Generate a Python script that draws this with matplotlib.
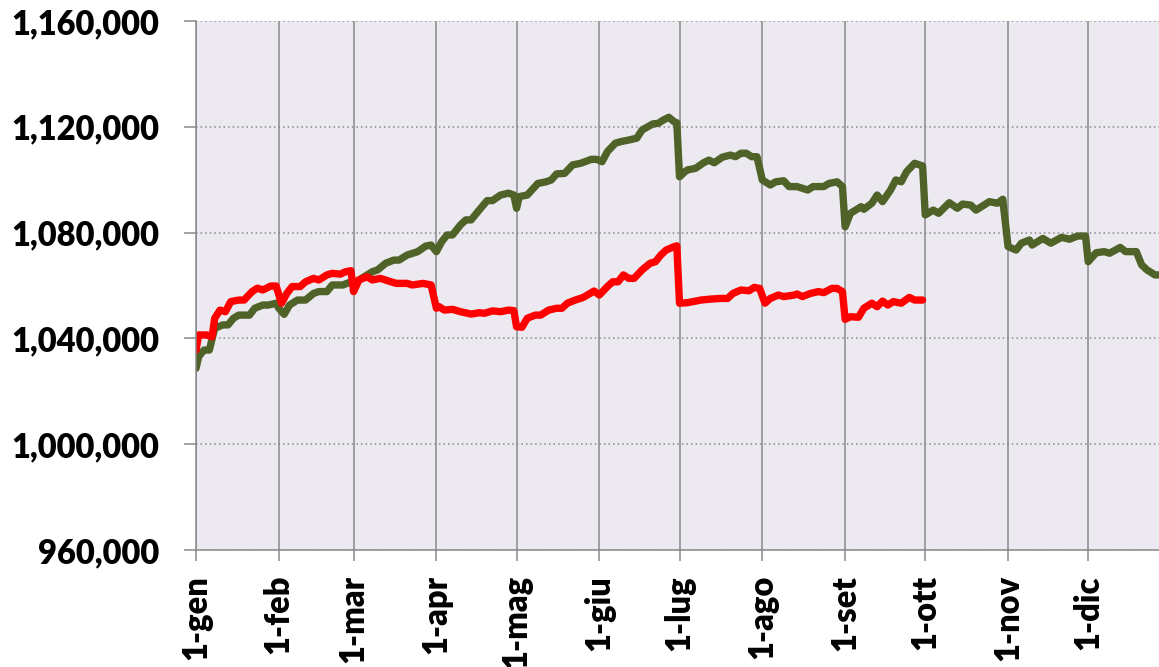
import numpy as np
import matplotlib.pyplot as plt
from matplotlib.ticker import FuncFormatter, FixedLocator

# day of year (0 = 1 Jan) and value in thousands
green_days = [0, 1, 3, 5, 7, 10, 12, 14, 16, 20, 22, 25, 27, 30, 31, 33, 35, 38, 41, 44,
              46, 49, 51, 55, 58, 59, 63, 66, 68, 71, 74, 76, 79, 83, 86, 88, 90, 92, 94, 96,
              99, 101, 103, 106, 109, 111, 114, 117, 119, 120, 121, 124, 128, 131, 133, 135,
              138, 141, 144, 148, 150, 152, 154, 157, 159, 162, 165, 167, 171, 173, 175, 177,
              179, 180, 181, 183, 184, 187, 190, 192, 194, 197, 200, 202, 204, 206, 208, 210,
              212, 215, 217, 220, 222, 225, 229, 231, 235, 237, 240, 242, 243, 245, 249, 250,
              253, 255, 257, 260, 262, 264, 266, 269, 272, 273, 276, 278, 282, 285, 287, 290,
              292, 295, 297, 300, 302, 304, 307, 309, 312, 313, 317, 320, 324, 327, 330, 333,
              334, 337, 340, 342, 346, 348, 352, 354, 356, 359, 361]
green_vals = [1028.7, 1033.1, 1035.6, 1035.6, 1043.8, 1045.1, 1045.1, 1047.6, 1048.8, 1048.8,
              1051.4, 1052.6, 1052.6, 1053.3, 1051.4, 1049.1, 1052.6, 1054.5, 1054.5, 1057.0,
              1057.7, 1057.7, 1060.2, 1060.2, 1061.4, 1060.8, 1063.3, 1065.2, 1065.9, 1068.4,
              1069.6, 1069.6, 1071.5, 1072.8, 1074.9, 1075.3, 1072.8, 1076.6, 1079.1, 1079.1,
              1082.9, 1084.8, 1084.8, 1088.5, 1092.1, 1092.1, 1094.2, 1094.9, 1094.2, 1089.2,
              1093.6, 1094.2, 1098.6, 1099.2, 1099.9, 1102.2, 1102.4, 1105.6, 1106.2, 1107.7,
              1107.7, 1106.8, 1110.6, 1113.8, 1114.4, 1115.0, 1115.7, 1118.8, 1121.1, 1121.3,
              1122.6, 1123.6, 1121.9, 1121.5, 1101.1, 1103.0, 1103.7, 1104.3, 1106.4, 1107.4,
              1106.4, 1108.5, 1109.3, 1108.7, 1110.0, 1110.0, 1108.7, 1108.7, 1099.9, 1098.0,
              1099.2, 1099.6, 1097.4, 1097.4, 1096.1, 1097.4, 1097.4, 1098.6, 1099.2, 1097.4,
              1082.2, 1087.3, 1089.8, 1088.8, 1091.1, 1094.2, 1091.7, 1096.1, 1099.9, 1099.2,
              1103.0, 1106.2, 1105.2, 1086.7, 1088.5, 1087.3, 1091.3, 1089.2, 1090.8, 1090.4,
              1088.5, 1090.4, 1091.7, 1091.1, 1092.6, 1074.7, 1073.4, 1076.0, 1077.2, 1075.3,
              1077.8, 1076.0, 1078.2, 1077.5, 1078.7, 1078.7, 1069.0, 1072.4, 1072.8, 1072.2,
              1074.4, 1072.8, 1072.8, 1067.8, 1065.9, 1064.0, 1064.0]

red_days = [0, 1, 4, 6, 7, 9, 11, 13, 16, 18, 21, 23, 25, 28, 30, 32, 34, 36, 39, 41, 44,
            46, 49, 51, 54, 56, 58, 59, 61, 64, 66, 69, 73, 75, 79, 81, 85, 88, 90, 91, 93,
            96, 99, 103, 106, 108, 111, 114, 117, 119, 120, 122, 124, 127, 129, 132, 135, 137,
            139, 142, 145, 149, 151, 154, 156, 158, 160, 162, 164, 167, 170, 172, 174, 176,
            179, 180, 181, 184, 189, 192, 196, 199, 201, 204, 207, 209, 211, 213, 215, 218,
            220, 224, 225, 227, 230, 233, 235, 238, 240, 242, 243, 245, 248, 250, 253, 255,
            257, 259, 261, 264, 267, 269, 272]
red_vals = [1035.6, 1041.3, 1041.3, 1040.6, 1047.6, 1050.7, 1050.1, 1053.9, 1054.5, 1054.5,
            1057.7, 1059.0, 1058.3, 1059.8, 1059.8, 1053.3, 1057.0, 1059.6, 1059.6, 1061.4,
            1062.7, 1062.1, 1064.0, 1064.6, 1064.3, 1065.2, 1065.6, 1057.7, 1062.1, 1063.3,
            1062.1, 1062.7, 1061.4, 1060.8, 1060.8, 1060.2, 1060.8, 1060.2, 1051.4, 1052.0,
            1050.7, 1051.0, 1050.1, 1049.2, 1049.7, 1049.5, 1050.4, 1050.1, 1050.7, 1050.5,
            1044.4, 1044.2, 1047.6, 1048.8, 1048.8, 1050.7, 1051.4, 1051.4, 1053.3, 1054.5,
            1055.5, 1057.9, 1056.4, 1059.6, 1061.4, 1061.4, 1064.0, 1062.7, 1062.7, 1065.9,
            1068.4, 1069.0, 1071.5, 1073.4, 1074.7, 1075.0, 1053.3, 1053.5, 1054.5, 1054.8,
            1055.1, 1055.1, 1057.0, 1058.3, 1058.0, 1059.3, 1058.9, 1053.3, 1055.1, 1056.4,
            1055.8, 1056.4, 1056.8, 1055.8, 1057.0, 1057.7, 1057.3, 1058.9, 1058.9, 1057.7,
            1047.2, 1048.2, 1048.0, 1051.4, 1053.3, 1052.0, 1054.1, 1052.6, 1053.9, 1053.3,
            1055.5, 1054.5, 1054.5]

month_labels = ['1-gen', '1-feb', '1-mar', '1-apr', '1-mag', '1-giu',
                '1-lug', '1-ago', '1-set', '1-ott', '1-nov', '1-dic']
y_ticks = [960000, 1000000, 1040000, 1080000, 1120000, 1160000]

start = np.datetime64('2023-01-01')
green_x = start + np.array(green_days, dtype='timedelta64[D]')
red_x = start + np.array(red_days, dtype='timedelta64[D]')
month_starts = np.arange('2023-01', '2024-01', dtype='datetime64[M]').astype('datetime64[D]')

plt.rcParams['font.family'] = ['Lato', 'DejaVu Sans']

fig = plt.figure(figsize=(11.59, 6.67), dpi=100)
ax = fig.add_axes([196 / 1159, 1 - 550 / 667, 1 - 196 / 1159, (550 - 21) / 667])
ax.set_facecolor('#ECEAF0')

ax.plot(green_x, np.array(green_vals) * 1000, color='#4F6228', lw=5.3,
        solid_joinstyle='round', solid_capstyle='round')
ax.plot(red_x, np.array(red_vals) * 1000, color='#FF0000', lw=5.3,
        solid_joinstyle='round', solid_capstyle='round')

ax.set_ylim(960000, 1160000)
ax.set_xlim(start, start + np.timedelta64(8652, 'h'))

ax.yaxis.set_major_locator(FixedLocator(y_ticks))
ax.yaxis.set_major_formatter(FuncFormatter(lambda v, p: f'{int(v):,}'))
ax.set_xticks(month_starts)
ax.set_xticklabels(month_labels, rotation=90, va='top', ha='center')

for lab in ax.get_xticklabels() + ax.get_yticklabels():
    lab.set_fontweight('heavy')
    lab.set_fontsize(23.5)

grid_col = '#898989'
ax.set_axisbelow(True)
ax.grid(axis='x', color=grid_col, lw=1.1, ls='-')
ax.grid(axis='y', color=grid_col, lw=1.1, ls=(0, (1, 2)))

for s in ['top', 'right']:
    ax.spines[s].set_visible(False)
for s in ['left', 'bottom']:
    ax.spines[s].set_color(grid_col)
    ax.spines[s].set_linewidth(1.1)

ax.tick_params(axis='y', direction='out', length=8.6, width=1.1, color=grid_col, pad=18)
ax.tick_params(axis='x', direction='out', length=8, width=1.1, color=grid_col, pad=10)

fig.savefig('out.png', dpi=100)
